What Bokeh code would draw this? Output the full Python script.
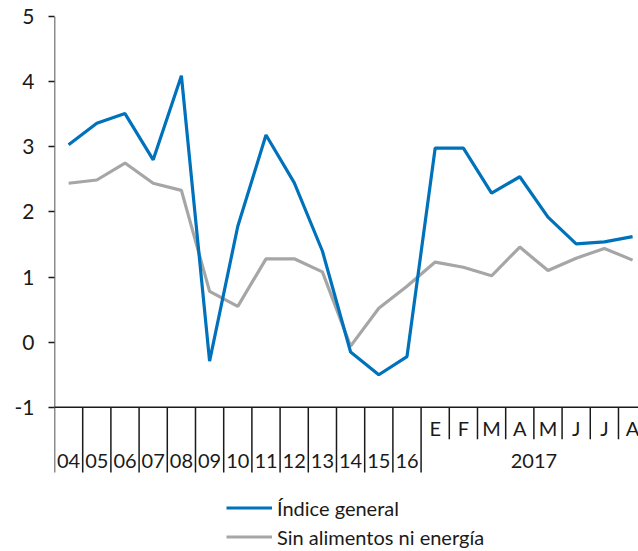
from bokeh.plotting import figure
from bokeh.models import Range1d, FixedTicker, Legend, LegendItem, ColumnDataSource
from bokeh.embed import file_html
from bokeh.resources import INLINE
from bokeh.core.properties import value

# ---- data ----
years = ["04", "05", "06", "07", "08", "09", "10", "11", "12", "13", "14", "15", "16"]
months = ["E", "F", "M", "A", "M", "J", "J", "A"]
months_year = "2017"
indice_general = [3.03, 3.36, 3.51, 2.80, 4.09, -0.29, 1.78, 3.18, 2.45, 1.40, -0.15,
                  -0.50, -0.22, 2.98, 2.98, 2.29, 2.54, 1.92, 1.51, 1.54, 1.62]
sin_alimentos = [2.44, 2.49, 2.75, 2.44, 2.33, 0.78, 0.55, 1.28, 1.28, 1.08, -0.06,
                 0.52, 0.86, 1.23, 1.15, 1.02, 1.46, 1.10, 1.29, 1.44, 1.26]
y_ticks = [-1, 0, 1, 2, 3, 4, 5]

FONT = "Lato"
TXT = "#1a1a1a"
BLUE = "#0072BC"
GRAY = "#A6A6A6"

n_years = len(years)
n = n_years + len(months)
xs = [i + 0.5 for i in range(n)]

y_min, y_max = y_ticks[0], y_ticks[-1]
label_floor = y_min - 1.0

p = figure(width=638, height=551, output_backend="svg", toolbar_location=None,
           x_range=Range1d(0, 20.71), y_range=Range1d(-3.213, y_max),
           min_border_left=54, min_border_right=0, min_border_top=16, min_border_bottom=0)
p.outline_line_color = None
p.grid.visible = False
p.xaxis.visible = False

ya = p.yaxis[0]
ya.ticker = FixedTicker(ticks=y_ticks)
ya.major_label_overrides = {t: str(t) for t in y_ticks}
ya.axis_line_color = None
ya.major_tick_out = 6
ya.major_tick_in = 0
ya.major_tick_line_color = TXT
ya.major_tick_line_width = 1.5
ya.minor_tick_line_color = None
ya.major_label_text_font = FONT
ya.major_label_text_font_size = "21px"
ya.major_label_text_color = TXT
ya.major_label_standoff = 14

# axis lines
p.segment(x0=[0], y0=[y_min], x1=[0], y1=[y_max], line_color=TXT, line_width=1.5)
p.segment(x0=[0], y0=[y_min], x1=[n], y1=[y_min], line_color=TXT, line_width=1.5)

# separators
yb = list(range(0, n_years + 1))
p.segment(x0=yb, y0=[y_min] * len(yb), x1=yb, y1=[label_floor] * len(yb),
          line_color=TXT, line_width=1.5)
mb = list(range(n_years + 1, n))
p.segment(x0=mb, y0=[y_min] * len(mb), x1=mb, y1=[y_min - 0.49] * len(mb),
          line_color=TXT, line_width=1.5)

# labels
p.text(x=xs[:n_years], y=[y_min - 0.82] * n_years, text=years,
       text_font=value(FONT), text_font_size="20px", text_color=TXT,
       text_align="center", text_baseline="middle")
p.text(x=xs[n_years:], y=[y_min - 0.31] * len(months), text=months,
       text_font=value(FONT), text_font_size="20px", text_color=TXT,
       text_align="center", text_baseline="middle")
p.text(x=[(n_years + n) / 2], y=[y_min - 0.82], text=[months_year],
       text_font=value(FONT), text_font_size="20px", text_color=TXT,
       text_align="center", text_baseline="middle")

src = ColumnDataSource(dict(x=xs, a=indice_general, b=sin_alimentos))
r2 = p.line("x", "b", source=src, line_color=GRAY, line_width=3.2)
r1 = p.line("x", "a", source=src, line_color=BLUE, line_width=3.2)

legend = Legend(items=[LegendItem(label="Índice general", renderers=[r1]),
                       LegendItem(label="Sin alimentos ni energía", renderers=[r2])],
                location=(172, 2), orientation="vertical")
legend.label_text_font = FONT
legend.label_text_font_size = "20px"
legend.label_text_color = TXT
legend.glyph_width = 46
legend.glyph_height = 25
legend.label_height = 25
legend.spacing = 4
legend.padding = 0
legend.margin = 0
legend.label_standoff = 5
legend.border_line_color = None
legend.background_fill_alpha = 0
p.add_layout(legend)

open("out.html", "w").write(file_html(p, INLINE))
